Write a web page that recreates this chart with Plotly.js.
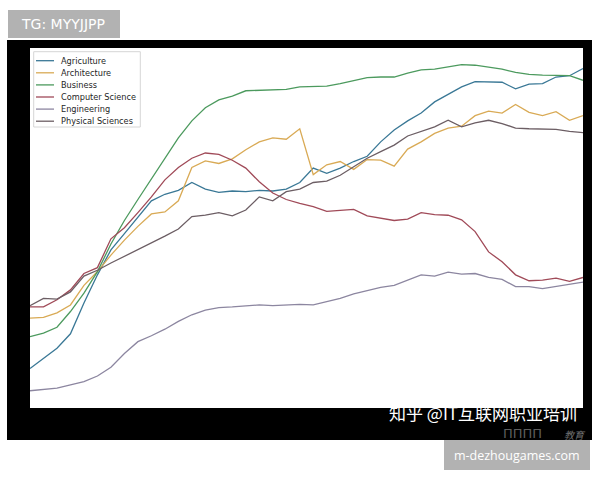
<!DOCTYPE html>
<html>
<head>
<meta charset="utf-8">
<script src="https://cdn.plot.ly/plotly-3.0.1.min.js"></script>
<style>
  html, body { margin: 0; padding: 0; background: #ffffff; }
  #chart { width: 600px; height: 480px; }
</style>
</head>
<body>
<div id="chart"></div>
<script>
// ---- data ----
const years = [1970,1971,1972,1973,1974,1975,1976,1977,1978,1979,
               1980,1981,1982,1983,1984,1985,1986,1987,1988,1989,
               1990,1991,1992,1993,1994,1995,1996,1997,1998,1999,
               2000,2001,2002,2003,2004,2005,2006,2007,2008,2009,
               2010,2011];

const seriesNames = ["Agriculture","Architecture","Business","Computer Science","Engineering","Physical Sciences"];

const agriculture = [4.2,5.7,7.3,9.5,14.2,18.5,22.3,24.8,27.3,29.8,
                     30.8,31.4,32.6,31.6,31.1,31.3,31.2,31.4,31.3,31.6,
                     32.6,34.8,34.0,34.8,35.8,36.6,38.8,40.6,42.0,43.2,
                     44.9,46.0,47.2,48.0,48.0,47.9,46.9,47.6,47.7,48.7,
                     48.9,50.0];

const architecture = [11.9,12.0,12.7,13.9,16.9,19.0,21.5,23.8,25.9,27.8,
                      28.1,29.8,34.9,35.9,35.5,36.2,37.6,38.8,39.4,39.2,
                      40.8,33.8,35.3,35.8,34.6,36.1,36.0,35.1,37.7,38.8,
                      40.1,40.9,41.2,42.8,43.5,43.2,44.5,43.3,42.8,43.4,
                      42.1,42.8];

const business = [9.05,9.6,10.5,12.9,15.7,19.0,23.2,26.8,30.0,33.2,
                  36.4,39.4,42.0,44.0,45.2,45.8,46.6,46.7,46.8,46.8,
                  47.2,47.3,47.3,47.7,48.1,48.6,48.7,48.7,49.3,49.8,
                  49.9,50.3,50.6,50.5,50.2,49.9,49.4,49.1,49.0,49.0,
                  48.9,48.2];

const computerScience = [13.6,13.6,14.7,16.2,18.7,19.6,24.0,25.7,28.0,30.4,
                         33.0,34.9,36.3,37.1,36.9,36.0,34.8,32.7,31.0,30.0,
                         29.4,28.9,28.2,28.4,28.5,27.5,27.1,26.8,27.0,28.0,
                         27.7,27.6,26.9,25.1,22.0,20.5,18.5,17.6,17.7,18.0,
                         17.5,18.1];

const engineering = [0.8,0.96,1.2,1.7,2.2,3.05,4.4,6.5,8.3,9.2,
                     10.2,11.4,12.4,13.1,13.5,13.6,13.8,13.9,13.8,13.9,
                     14.0,13.9,14.4,14.9,15.6,16.1,16.6,16.9,17.7,18.5,
                     18.3,18.9,18.6,18.7,18.1,17.8,16.7,16.7,16.4,16.7,
                     17.1,17.4];

const physicalSciences = [13.8,14.9,14.8,15.9,18.3,19.2,20.3,21.3,22.3,23.4,
                          24.4,25.5,27.4,27.6,28.0,27.5,28.4,30.4,29.8,31.2,
                          31.6,32.6,32.8,33.7,35.0,36.3,37.3,38.3,39.7,40.4,
                          41.1,42.1,41.1,41.7,42.1,41.6,40.9,40.8,40.8,40.7,
                          40.4,40.2];

const seriesValues = [agriculture, architecture, business, computerScience, engineering, physicalSciences];

// ---- styles ----
const seriesColors = ["#3a7896","#d9aa55","#4c9a5e","#a04a58","#8c86a0","#6c5e64"];

const W = 600, H = 480;
const plotL = 30, plotR = 583, plotT = 48, plotB = 408;
const pxX = x => (x - plotL) / (plotR - plotL);
const pxY = y => (plotB - y) / (plotB - plotT);

const traces = seriesValues.map((vals, i) => ({
  type: "scatter",
  mode: "lines",
  x: years,
  y: vals,
  name: seriesNames[i],
  line: { color: seriesColors[i], width: 1.3 },
  showlegend: false,
  hoverinfo: "skip"
}));

const shapes = [];
const annotations = [];

function rect(x0, y0, x1, y1, fill, layer, lineColor, lineW) {
  shapes.push({
    type: "rect", xref: "paper", yref: "paper",
    x0: pxX(x0), x1: pxX(x1), y0: pxY(y1), y1: pxY(y0),
    fillcolor: fill, layer: layer || "above",
    line: { color: lineColor || fill, width: lineW || 0 }
  });
}

// black frame around the white plot area
rect(7, 40, 592, 48, "#000000");
rect(7, 40, 30, 440, "#000000");
rect(583, 40, 592, 440, "#000000");
rect(7, 408, 592, 440, "#000000");

// gray label boxes
rect(8, 10, 120, 38, "#b2b2b2");
rect(444, 440, 590, 470, "#b2b2b2");

annotations.push({
  xref: "paper", yref: "paper", x: pxX(19), y: pxY(24),
  xanchor: "left", yanchor: "middle", showarrow: false,
  text: "TG: MYYJJPP",
  font: { family: "DejaVu Sans, sans-serif", size: 14, color: "#ffffff" }
});
annotations.push({
  xref: "paper", yref: "paper", x: pxX(517), y: pxY(455),
  xanchor: "center", yanchor: "middle", showarrow: false,
  text: "m-dezhougames.com",
  font: { family: "Open Sans, sans-serif", size: 12.5, color: "#ffffff" }
});
// watermark on the black strip
annotations.push({
  xref: "paper", yref: "paper", x: pxX(501), y: pxY(433),
  xanchor: "left", yanchor: "middle", showarrow: false,
  text: "ПППП",
  font: { family: "DejaVu Sans, sans-serif", size: 13, color: "#5e5e5e" }
});
annotations.push({
  xref: "paper", yref: "paper", x: pxX(562), y: pxY(434),
  xanchor: "left", yanchor: "middle", showarrow: false,
  text: "<i>教育</i>",
  font: { family: "Noto Sans CJK SC, sans-serif", size: 10, color: "#6e6e6e" }
});
annotations.push({
  xref: "paper", yref: "paper", x: pxX(387), y: pxY(412.5),
  xanchor: "left", yanchor: "middle", showarrow: false,
  text: "知乎 @IT互联网职业培训",
  font: { family: "Noto Sans CJK SC, sans-serif", size: 17, color: "#ffffff" }
});

// legend (drawn as shapes + text, from names/colors)
rect(33.7, 51.7, 140.3, 127, "#ffffff", "above", "#d6d6d6", 1);
seriesNames.forEach((name, i) => {
  const yy = 60.7 + i * 12.1;
  shapes.push({
    type: "line", xref: "paper", yref: "paper", layer: "above",
    x0: pxX(36), x1: pxX(54), y0: pxY(yy), y1: pxY(yy),
    line: { color: seriesColors[i], width: 1.3 }
  });
  annotations.push({
    xref: "paper", yref: "paper", x: pxX(59), y: pxY(yy),
    xanchor: "left", yanchor: "middle", showarrow: false,
    text: name,
    font: { family: "DejaVu Sans, sans-serif", size: 8.2, color: "#262626" }
  });
});

const layout = {
  width: W, height: H,
  margin: { l: plotL, r: W - plotR, t: plotT, b: H - plotB, pad: 0 },
  paper_bgcolor: "#ffffff",
  plot_bgcolor: "#ffffff",
  showlegend: false,
  xaxis: { range: [1970, 2011], visible: false, showgrid: false, zeroline: false, fixedrange: true },
  yaxis: { range: [-1.83, 53.13], visible: false, showgrid: false, zeroline: false, fixedrange: true },
  shapes: shapes,
  annotations: annotations
};

Plotly.newPlot("chart", traces, layout, { displayModeBar: false, staticPlot: true });
</script>
</body>
</html>
